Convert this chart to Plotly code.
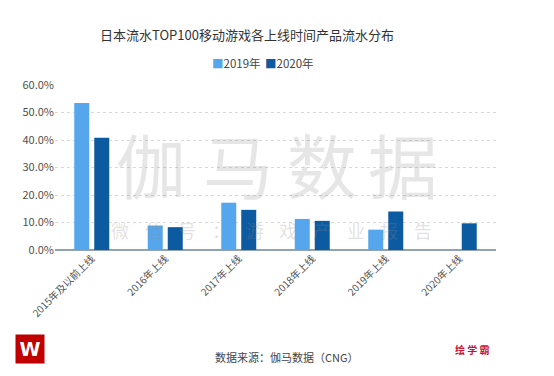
import plotly.graph_objects as go

categories = ["2015年及以前上线", "2016年上线", "2017年上线", "2018年上线", "2019年上线", "2020年上线"]
series_names = ["2019年", "2020年"]
values_2019 = [0.535, 0.089, 0.172, 0.113, 0.074, None]
values_2020 = [0.408, 0.083, 0.146, 0.106, 0.140, 0.097]
y_ticks = [0, 0.1, 0.2, 0.3, 0.4, 0.5, 0.6]
colors = ["#55a6ec", "#0c5aa0"]

W, H = 554, 376
L, R, T, B = 55, 58, 85, 126
PW, PH = W - L - R, H - T - B

def px(x):
    return (x - L) / PW

def py(y):
    return (H - B - y) / PH

FONT = "Noto Sans CJK SC"

fig = go.Figure()
fig.add_trace(go.Bar(x=categories, y=values_2019, name=series_names[0],
                     marker=dict(color=colors[0], line=dict(width=0))))
fig.add_trace(go.Bar(x=categories, y=values_2020, name=series_names[1],
                     marker=dict(color=colors[1], line=dict(width=0))))


def note(text, x, y, size, color, family=FONT, xanchor="center", **kw):
    return dict(text=text, x=px(x), y=py(y), xref="paper", yref="paper",
                xanchor=xanchor, yanchor="middle", showarrow=False,
                font=dict(family=family, size=size, color=color), **kw)


ann = []
# title
ann.append(note("日本流水TOP100移动游戏各上线时间产品流水分布", 247, 34, 13, "#333333"))
# legend built from series names/colors
legend_x = [210, 263]
for nm, c, lx in zip(series_names, colors, legend_x):
    ann.append(note(f'<span style="color:{c}">■</span>{nm}', lx, 63, 11.5, "#444444",
                    xanchor="left"))
# watermark
wm_big = ["伽", "马", "数", "据"]
for ch, cx in zip(wm_big, [151, 238, 322, 403]):
    ann.append(note(ch, cx, 163, 70, "rgba(140,140,140,0.22)"))
wm_small = list("微信号：游戏产业报告")
for i, ch in enumerate(wm_small):
    cx = 120 + i * (423 - 120) / 9
    ann.append(note(ch, cx, 230, 18, "rgba(140,140,140,0.26)"))
# source
ann.append(note("数据来源：伽马数据（CNG）", 287, 357, 11, "#444444"))
# logo
ann.append(note("<b>W</b>", 30, 349, 19, "white", family="DejaVu Sans",
                bgcolor="#c00000", width=28, height=28, borderpad=0))
# 绘学霸
ann.append(note("<b>绘 学 霸</b>", 472, 349, 10, "#c8102e"))

fig.update_layout(
    width=W, height=H,
    margin=dict(l=L, r=R, t=T, b=B),
    paper_bgcolor="white", plot_bgcolor="white",
    barmode="group", bargap=0.456, bargroupgap=0.25,
    showlegend=False,
    font=dict(family=FONT, color="#595959"),
    annotations=ann,
    xaxis=dict(tickangle=-45, tickfont=dict(size=10, color="#505050"),
               showgrid=False, showline=False, ticks="", zeroline=False,
               automargin=False),
    yaxis=dict(range=[0, 0.6], tickvals=y_ticks, tickformat=".1%",
               tickfont=dict(size=11, color="#505050"),
               showgrid=True, gridcolor="#d9d9d9", griddash="dot", gridwidth=1,
               zeroline=True, zerolinecolor="#8fa3b0", zerolinewidth=2,
               showline=False, ticks="", ticklen=0, automargin=False),
)

fig.write_html("out.html", config={"displayModeBar": False},
               post_script="document.body.style.margin='0';document.body.style.overflow='hidden';")
